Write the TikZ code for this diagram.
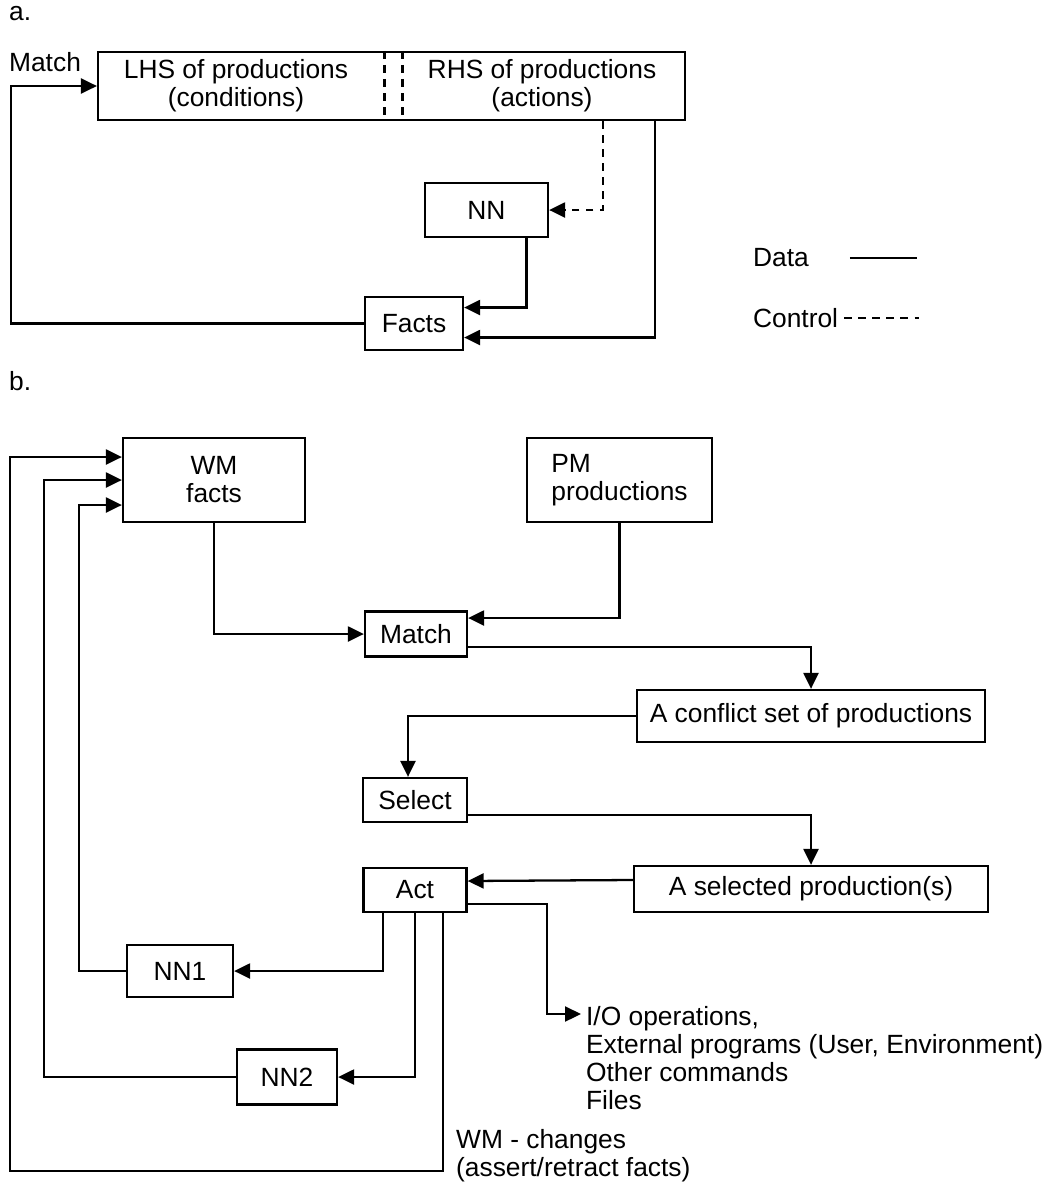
\documentclass[tikz,border=0pt]{standalone}
\usepackage{fontspec}
\setmainfont{Liberation Sans}
\usetikzlibrary{arrows.meta,calc,positioning}
\tikzset{box/.style={draw,inner sep=0pt,align=center},
  lbl/.style={inner sep=0pt,align=left},
  ctrl/.style={dash pattern=on 4.5pt off 3.5pt}}

\begin{document}
\begin{tikzpicture}[x=0.02cm,y=-0.02cm,>={Triangle[length=0.32cm,width=0.3cm]},line width=1.3pt,
  font=\fontsize{15}{15.9}\selectfont]
\useasboundingbox (0,0) rectangle (1061,1184);
% part a: production system with a network
\node[lbl,anchor=west] (alab) at (8,14) {a.};
\node[box,minimum width=11.74cm,minimum height=1.36cm] (prod) at (391.5,86) {};
\node[box,draw=none] (lhs) at (236,86) {LHS of productions\\(conditions)};
\node[box,draw=none] (rhs) at (542,86) {RHS of productions\\(actions)};
\draw[ctrl] ($(prod.north)+(-7,0)$) -- ($(prod.south)+(-7,0)$);
\draw[ctrl] ($(prod.north)+(11,0)$) -- ($(prod.south)+(11,0)$);
\node[lbl,anchor=west] (matchlbl) at (8,62) {Match};
\node[box,minimum width=2.46cm,minimum height=1.08cm] (nn) at (486.5,210) {NN};
\node[box,minimum width=1.96cm,minimum height=1.06cm] (facts) at (414,323.5) {Facts};
\draw[->,ctrl] ($(prod.south)+(211.5,0)$) |- (nn.east);
\draw[->] ($(nn.south)+(40,0)$) |- ($(facts.east)+(0,-16)$);
\draw[->] ($(prod.south)+(263.5,0)$) |- ($(facts.east)+(0,14)$);
\draw[->] (facts.west) -- ++(-353,0) |- (prod.west);
% legend
\node[lbl,anchor=west] (data) at (752,258) {Data};
\node[lbl,anchor=west] (control) at (752,318) {Control};
\draw (data.east) ++(40,0) -- ++(67,0);
\draw[ctrl] (control.east) ++(5,0) -- ++(75,0);
% part b: production system cycle
\node[lbl,anchor=west] (blab) at (8,381) {b.};
\node[box,minimum width=3.64cm,minimum height=1.68cm] (wm) at (214,480) {WM\\facts};
\node[box,minimum width=3.7cm,minimum height=1.68cm,align=left] (pm) at (619.5,480) {PM\\productions};
\node[box,minimum width=2.04cm,minimum height=0.9cm] (match) at (416,634) {Match};
\node[box,minimum width=6.96cm,minimum height=1.04cm] (conflict) at (811,716) {A conflict set of productions};
\node[box,minimum width=2.08cm,minimum height=0.88cm] (select) at (415,800) {Select};
\node[box,minimum width=7.08cm,minimum height=0.92cm] (selected) at (811,889) {A selected production(s)};
\node[box,minimum width=2.06cm,minimum height=0.88cm] (act) at (415,890) {Act};
\node[box,minimum width=2.12cm,minimum height=1.04cm] (nn1) at (180,971) {NN1};
\node[box,minimum width=2cm,minimum height=1.1cm] (nn2) at (287,1077) {NN2};
\node[lbl,anchor=north west] (io) at (585,1005) {I/O operations,\\External programs (User, Environment)\\Other commands\\Files};
\node[lbl,anchor=north west] (wmch) at (455,1128) {WM - changes\\(assert/retract facts)};
\draw[->] (wm.south) |- (match.west);
\draw[->] (pm.south) |- ($(match.east)+(0,-16)$);
\draw[->] ($(match.east)+(0,13)$) -| (conflict.north);
\draw[->] (conflict.west) -| ($(select.north)+(-7,0)$);
\draw[->] ($(select.east)+(0,15)$) -| (selected.north);
\draw[->] ($(selected.west)+(0,-9)$) -- ($(act.east)+(0,-9)$);
\draw[->] ($(act.east)+(0,14)$) -| ($(io.north west)+(-38,9)$) -- ($(io.north west)+(-4,9)$);
\draw[->] ($(act.south)+(-32,0)$) |- (nn1.east);
\draw[->] (act.south) |- (nn2.east);
\draw[->] ($(act.south)+(28,0)$) -- ++(0,258) -- ++(-433,0) |- ($(wm.west)+(0,-23)$);
\draw[->] (nn2.west) -- ++(-192,0) |- (wm.west);
\draw[->] (nn1.west) -- ++(-47,0) |- ($(wm.west)+(0,25)$);
\end{tikzpicture}
\end{document}
